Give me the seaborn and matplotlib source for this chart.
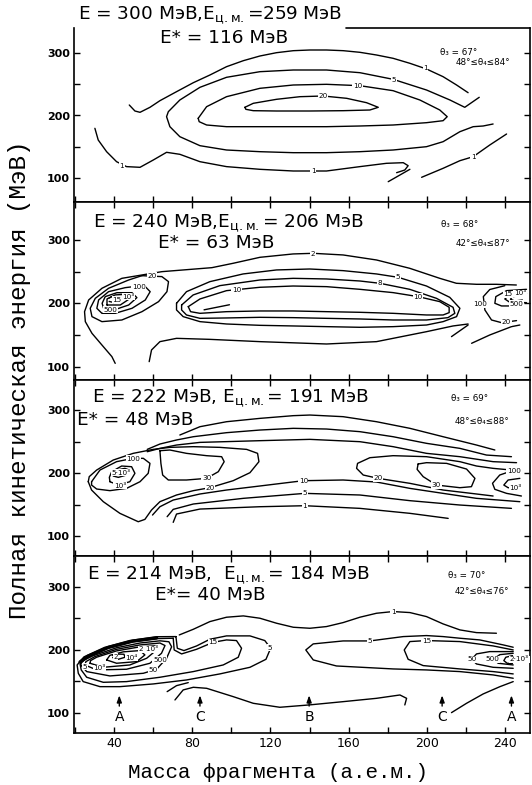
import matplotlib
matplotlib.use("Agg")
import matplotlib.pyplot as plt
import seaborn as sns
import pandas as pd

sns.set_theme(style="ticks")
plt.rcParams['font.family'] = ['DejaVu Sans']
plt.rcParams['mathtext.fontset'] = 'dejavusans'
for k in ["text.color", "axes.labelcolor", "xtick.color", "ytick.color", "axes.edgecolor"]:
    plt.rcParams[k] = "black"

# ---------------- axes ----------------
mass_range = (19.4, 252.9)
mass_ticks = [40, 80, 120, 160, 200, 240]
mass_minor = [20, 60, 100, 140, 180, 220]
tke_ticks = [100, 200, 300]
tke_minor = [150, 250]
tke_ranges = [(61.6, 340.0), (79.5, 359.8), (68.3, 347.6), (68.3, 349.0)]

title_line1 = [r"E = 300 МэВ,E$_{\mathrm{ц.м.}}$=259 МэВ",
               r"E = 240 МэВ,E$_{\mathrm{ц.м.}}$= 206 МэВ",
               r"E = 222 МэВ, E$_{\mathrm{ц.м.}}$= 191 МэВ",
               r"E = 214 МэВ,  E$_{\mathrm{ц.м.}}$= 184 МэВ"]
title_line2 = ["E* = 116 МэВ", "E* = 63 МэВ", "E* = 48 МэВ", "E*= 40 МэВ"]
theta3 = ["θ₃ = 67°", "θ₃ = 68°", "θ₃ = 69°", "θ₃ = 70°"]
theta4 = ["48°≤θ₄≤84°", "42°≤θ₄≤87°", "48°≤θ₄≤88°", "42°≤θ₄≤76°"]

# ---------------- panel 1 : E = 300 MeV ----------------
p1_a_x = [47.7, 50.6, 53.2, 58.3, 63.4, 71.9, 80.5, 89.0, 97.5, 106.1, 114.6, 123.1, 131.7, 140.2, 148.7, 157.3, 165.8, 174.3, 182.8, 191.4, 199.9, 208.4, 215.3, 221.2]
p1_a_y = [216.8, 207.2, 205.1, 213.1, 223.7, 238.1, 252.5, 264.8, 278.1, 287.7, 295.2, 300.5, 303.7, 304.8, 304.8, 303.7, 301.1, 296.8, 291.5, 283.5, 274.4, 262.1, 248.8, 236.5]
p1_b_x = [226.9, 219.5, 211.9, 199.9, 182.8, 165.8, 148.7, 131.7, 114.6, 97.5, 83.9, 73.6, 67.7, 66.8, 68.5, 73.6, 83.9, 97.5, 114.6, 131.7, 148.7, 165.8, 182.8, 199.9, 208.4, 217.0, 223.8, 228.9, 234.0]
p1_b_y = [229.1, 213.1, 224.8, 240.8, 257.9, 268.5, 272.8, 272.8, 270.1, 261.1, 245.1, 224.8, 206.1, 198.1, 182.1, 166.1, 151.7, 144.8, 142.1, 140.5, 140.5, 142.1, 144.8, 150.1, 158.1, 174.1, 182.1, 183.2, 186.4]
p1_c_x = [83.0, 87.3, 97.5, 114.6, 131.7, 148.7, 165.8, 182.8, 196.5, 206.7, 210.5, 208.4, 199.9, 182.8, 165.8, 148.7, 131.7, 114.6, 97.5, 87.3, 83.5]
p1_c_y = [195.5, 214.1, 230.1, 243.5, 248.8, 249.9, 247.7, 239.7, 224.8, 208.8, 198.1, 191.7, 188.5, 184.8, 183.2, 182.1, 182.1, 182.1, 182.1, 184.8, 190.1]
p1_d_x = [106.9, 111.2, 123.1, 135.1, 147.0, 159.0, 169.2, 175.2, 170.9, 157.3, 140.2, 123.1, 111.2, 107.4]
p1_d_y = [213.1, 219.5, 225.9, 230.1, 231.2, 227.5, 220.5, 213.1, 208.8, 207.7, 207.2, 207.2, 207.7, 209.9]
p1_e_x = [30.1, 31.8, 36.1, 41.2, 46.3, 53.2, 60.0, 66.8, 73.6, 83.9, 97.5, 114.6, 131.7, 148.7, 165.8, 179.4, 188.0, 190.5, 188.8, 184.6]
p1_e_y = [179.5, 160.8, 142.1, 126.1, 118.2, 117.1, 128.8, 141.1, 137.9, 126.1, 118.2, 113.9, 111.2, 111.2, 118.2, 123.5, 124.5, 119.7, 112.8, 108.5]
p1_f_x = [180.3, 186.3, 191.4]
p1_f_y = [94.1, 104.8, 113.9]
p1_g_x = [197.4, 208.4, 217.0, 223.8, 232.3, 240.9]
p1_g_y = [101.1, 115.5, 127.7, 134.1, 152.8, 170.4]
p1_lbl = ["1", "5", "10", "20", "1", "1", "1"]
p1_lbl_x = [199.4, 183.4, 164.6, 147.0, 43.8, 141.9, 223.8]
p1_lbl_y = [275.5, 256.8, 247.7, 230.6, 119.2, 110.8, 134.1]

# ---------------- panel 2 : E = 240 MeV ----------------
p2_a_x = [40.5, 38.8, 33.7, 28.6, 25.2, 24.8, 26.9, 33.7, 43.9, 64.4, 90.0, 100.9, 114.6, 131.6, 141.9, 157.2, 174.3, 191.3, 206.7, 215.2, 225.5, 235.7, 245.9]
p2_a_y = [105.7, 116.3, 134.6, 153.0, 171.4, 187.1, 205.5, 223.9, 239.6, 250.1, 256.4, 263.3, 272.7, 278.0, 279.0, 276.4, 268.5, 255.4, 239.6, 231.8, 230.2, 230.2, 229.1]
p2_b_x = [71.9, 77.0, 89.0, 106.0, 123.1, 140.1, 157.2, 174.3, 185.4, 199.9, 211.8, 217.0, 215.3, 208.4, 199.9, 182.8, 165.8, 148.7, 131.6, 114.6, 97.5, 83.9, 75.3, 71.9]
p2_b_y = [200.3, 218.6, 234.4, 246.5, 252.8, 254.3, 251.7, 246.5, 241.2, 227.5, 209.7, 192.4, 179.3, 171.4, 166.1, 163.5, 162.5, 163.5, 164.6, 165.6, 167.7, 171.4, 179.3, 189.8]
p2_c_x = [74.5, 80.4, 94.1, 114.6, 131.6, 148.7, 165.8, 176.0, 191.3, 205.0, 213.5, 214.4, 210.9, 199.9, 182.8, 165.8, 148.7, 131.6, 114.6, 97.5, 83.9, 77.0, 74.5]
p2_c_y = [197.6, 213.4, 228.1, 237.0, 239.6, 238.6, 235.4, 231.8, 222.3, 208.1, 194.0, 184.5, 177.7, 174.0, 174.0, 175.6, 176.6, 177.7, 178.2, 177.2, 176.6, 181.9, 189.8]
p2_d_x = [77.9, 83.9, 97.5, 114.6, 131.6, 148.7, 165.8, 182.8, 195.6, 206.7, 211.5, 211.5, 208.4, 199.9, 182.8, 165.8, 148.7, 131.6, 114.6, 97.5, 83.9, 79.1]
p2_d_y = [195.0, 207.1, 220.2, 225.5, 227.5, 226.5, 222.3, 217.1, 210.8, 202.9, 194.0, 185.6, 181.9, 181.9, 184.5, 186.1, 187.1, 188.2, 188.2, 187.1, 184.5, 187.1]
p2_s_x = [86.0, 99.0]
p2_s_y = [190.0, 198.0]
p2_e_x = [57.9, 59.1, 63.4, 71.9, 89.0, 114.6, 148.7, 174.3, 199.9, 213.5, 221.2]
p2_e_y = [108.4, 126.8, 139.9, 145.1, 143.5, 139.9, 136.2, 139.9, 155.6, 164.6, 167.7]
p2_f_x = [212.7, 221.2]
p2_f_y = [147.8, 166.1]
p2_g_x = [223.0, 232.3, 243.4, 247.7]
p2_g_y = [137.3, 150.4, 163.5, 166.1]
p2_r20_x = [240.0, 232.3, 229.0, 229.8, 233.2, 238.3, 246.0]
p2_r20_y = [228.0, 222.0, 210.8, 189.8, 174.0, 169.8, 173.0]
p2_r100_x = [251.1, 240.9, 235.4, 234.9, 238.3, 245.1]
p2_r100_y = [222.3, 220.2, 210.8, 200.3, 196.1, 196.1]
p2_r500_x = [251.1, 242.6, 240.0, 242.6, 251.1]
p2_r500_y = [216.0, 213.4, 207.1, 201.8, 201.3]
p2_r15_x = [248.5, 243.9, 242.9, 245.1, 249.0]
p2_r15_y = [212.3, 210.8, 206.6, 203.9, 205.5]
p2_l20_x = [54.2, 64.4, 67.8, 67.0, 62.7, 54.2, 43.9, 33.7, 28.6, 27.7, 30.3, 37.1, 47.4]
p2_l20_y = [243.8, 242.3, 234.4, 218.6, 202.9, 187.1, 174.0, 171.4, 179.3, 192.4, 208.1, 223.9, 237.0]
p2_l100_x = [55.9, 58.4, 55.9, 49.1, 40.5, 33.7, 31.1, 32.0, 37.1, 45.6, 52.5]
p2_l100_y = [226.5, 218.6, 205.5, 192.4, 184.5, 184.5, 192.4, 205.5, 218.6, 224.9, 227.5]
p2_l500_x = [34.5, 40.5, 47.4, 51.6, 49.1, 41.4, 35.4, 33.8]
p2_l500_y = [193.0, 190.5, 197.6, 209.2, 217.0, 217.0, 210.8, 200.3]
p2_l1k_x = [36.3, 43.1, 48.2, 46.5, 40.5, 36.3]
p2_l1k_y = [197.6, 197.6, 208.1, 214.5, 213.5, 207.1]
p2_l15_x = [37.4, 39.7, 40.5, 38.8, 37.4]
p2_l15_y = [203.2, 201.6, 207.5, 211.0, 208.6]
p2_lbl = ["2", "5", "8", "10", "10", "20", "100", "10³", "15", "500", "20", "100", "500", "15", "10³"]
p2_lbl_x = [141.9, 185.4, 176.0, 102.6, 195.6, 59.3, 52.5, 47.4, 41.5, 38.0, 240.9, 227.2, 246.0, 241.7, 247.8]
p2_lbl_y = [278.5, 241.2, 231.8, 221.3, 210.8, 243.5, 225.5, 210.8, 206.0, 190.5, 170.9, 198.7, 199.2, 214.4, 216.0]

# ---------------- panel 3 : E = 222 MeV ----------------
p3_t1_x = [73.6, 83.9, 97.5, 114.6, 131.7, 140.2, 157.2, 174.3, 191.4, 208.4, 225.5, 234.9]
p3_t1_y = [260.3, 273.5, 281.4, 286.7, 291.0, 292.0, 289.4, 281.4, 270.9, 257.6, 244.4, 236.5]
p3_t2_x = [56.9, 63.4, 71.9, 80.5, 97.5, 114.6, 131.7, 148.7, 165.8, 182.8, 199.9, 217.0, 230.6, 243.4]
p3_t2_y = [237.5, 246.0, 252.4, 257.6, 264.0, 268.2, 270.9, 269.8, 265.6, 257.6, 247.1, 239.1, 228.5, 225.9]
p3_t3_x = [56.9, 63.4, 71.9, 83.9, 114.6, 140.2, 165.8, 182.8, 199.9, 217.0, 234.0, 246.0]
p3_t3_y = [233.8, 239.1, 244.4, 248.6, 251.3, 253.4, 249.7, 241.8, 231.2, 225.9, 218.0, 216.4]
p3_l20_x = [26.7, 28.4, 34.4, 42.9, 52.3, 55.7, 59.1, 63.4, 71.9, 80.5, 89.0, 100.9, 109.5, 114.1, 113.4, 107.8, 94.1, 80.5, 68.5, 60.0, 49.7, 39.5, 31.0, 27.2]
p3_l20_y = [186.2, 173.0, 154.5, 136.0, 122.7, 126.4, 141.3, 154.5, 165.1, 172.0, 176.7, 187.8, 200.5, 218.0, 231.2, 237.5, 240.7, 241.8, 240.7, 237.5, 231.2, 220.6, 204.7, 194.2]
p3_l30_x = [63.4, 63.9, 64.8, 67.7, 77.0, 87.3, 93.3, 96.3, 95.0, 87.3, 77.0, 68.5]
p3_l30_y = [235.4, 215.3, 196.8, 188.9, 188.9, 191.5, 202.1, 218.0, 225.9, 227.5, 231.2, 236.5]
p3_l100_x = [28.4, 32.7, 41.2, 49.7, 54.9, 58.3, 57.4, 53.2, 46.3, 37.8, 31.0, 28.4]
p3_l100_y = [186.2, 204.7, 218.0, 223.3, 223.3, 215.3, 199.5, 186.2, 175.6, 172.0, 174.6, 180.9]
p3_l1k_x = [37.8, 42.1, 48.0, 50.6, 48.9, 43.8, 38.7, 37.5]
p3_l1k_y = [186.2, 180.9, 186.2, 199.5, 210.0, 211.1, 202.1, 193.1]
p3_l5k_x = [39.5, 42.1, 46.3, 47.7, 45.5, 41.2, 39.5]
p3_l5k_y = [195.2, 193.1, 196.8, 204.7, 207.4, 204.7, 199.5]
p3_l10_x = [59.6, 63.4, 70.2, 83.9, 97.5, 114.6, 136.8, 157.2, 174.3, 191.4, 208.4, 225.5, 247.7]
p3_l10_y = [133.3, 146.5, 157.1, 166.7, 173.0, 179.4, 187.8, 188.9, 185.7, 175.6, 167.7, 159.8, 154.5]
p3_l5_x = [67.1, 70.2, 80.5, 106.1, 137.6, 165.8, 191.4, 217.0, 243.4]
p3_l5_y = [130.7, 142.3, 150.8, 159.8, 167.7, 165.1, 156.1, 149.2, 143.9]
p3_l1_x = [70.2, 71.9, 83.9, 114.6, 137.6, 165.8, 191.4, 211.0]
p3_l1_y = [121.7, 134.9, 142.8, 146.5, 148.1, 143.9, 136.0, 128.0]
p3_r20_x = [243.4, 234.0, 225.5, 217.0, 199.9, 182.8, 170.9, 164.6, 164.1, 167.5, 175.2, 191.4, 208.4, 225.5, 234.0]
p3_r20_y = [204.7, 207.4, 211.1, 218.0, 225.9, 227.5, 224.3, 215.3, 207.4, 196.8, 191.5, 183.6, 173.0, 166.7, 163.5]
p3_r30_x = [195.6, 199.9, 210.2, 220.4, 224.7, 222.9, 217.0, 205.0, 198.2, 195.1]
p3_r30_y = [214.3, 216.4, 215.3, 206.3, 191.5, 178.3, 176.7, 180.9, 194.2, 205.8]
p3_r100_x = [243.4, 237.4, 233.7, 234.9, 240.9, 248.5]
p3_r100_y = [203.2, 196.8, 183.6, 174.1, 167.7, 163.5]
p3_r1k_x = [247.7, 241.7, 239.5, 241.7, 247.7]
p3_r1k_y = [191.5, 188.9, 180.9, 176.7, 175.6]
p3_lbl = ["100", "10³", "5·10³", "30", "20", "10", "5", "1", "20", "30", "100", "10³"]
p3_lbl_x = [49.7, 42.9, 43.6, 87.3, 89.0, 136.8, 137.6, 137.6, 175.2, 205.0, 244.5, 245.5]
p3_lbl_y = [222.2, 179.9, 200.5, 191.5, 176.7, 187.8, 167.7, 148.1, 191.5, 180.9, 203.2, 176.7]

# ---------------- panel 4 : E = 214 MeV ----------------
p4_top_x = [73.3, 80.5, 89.0, 97.5, 106.1, 114.6, 123.1, 131.7, 140.2, 148.7, 157.2, 165.8, 174.3, 182.8, 191.4, 199.9, 208.4, 217.0, 225.5, 235.7]
p4_top_y = [223.8, 232.8, 245.0, 251.9, 254.0, 250.3, 242.4, 236.0, 234.4, 237.1, 243.4, 251.9, 258.2, 260.9, 259.3, 252.9, 241.3, 231.8, 227.5, 226.5]
p4_r5_x = [244.3, 239.2, 227.2, 217.0, 208.4, 199.9, 188.0, 170.9, 157.2, 141.9, 138.1, 141.9, 153.8, 182.8, 199.9, 217.0, 234.0, 244.3]
p4_r5_y = [204.3, 208.0, 215.9, 218.6, 221.2, 222.8, 221.2, 214.3, 214.3, 209.6, 200.0, 184.2, 174.6, 169.9, 168.3, 165.7, 160.4, 155.1]
p4_r15_x = [244.3, 234.0, 217.0, 199.9, 191.4, 188.5, 190.5, 198.2, 217.0, 234.0, 244.3]
p4_r15_y = [200.0, 206.4, 213.3, 214.9, 213.3, 200.0, 185.2, 175.2, 169.9, 165.7, 162.0]
p4_r50_x = [244.3, 232.3, 225.5, 223.0, 225.5, 234.0, 244.3]
p4_r50_y = [197.4, 197.4, 193.7, 185.2, 177.8, 172.5, 170.9]
p4_r500_x = [244.3, 237.5, 234.0, 236.6, 244.3]
p4_r500_y = [194.7, 192.6, 185.2, 178.9, 176.2]
p4_r2k_x = [243.9, 240.5, 239.5, 241.2, 243.9]
p4_r2k_y = [191.0, 188.4, 183.1, 178.9, 178.4]
p4_br_x = [212.7, 220.4, 228.9, 237.5, 244.3]
p4_br_y = [100.6, 115.4, 130.2, 141.8, 149.8]
p4_low_x = [71.1, 75.3, 80.5, 87.3, 100.9, 111.2, 124.8, 139.8, 157.2, 174.3, 186.3, 189.7, 188.8]
p4_low_y = [120.7, 136.6, 140.8, 139.2, 126.0, 115.4, 109.1, 112.8, 118.0, 123.3, 128.6, 123.3, 112.8]
p4_arc_x = [67.1, 71.9, 77.9]
p4_arc_y = [133.9, 143.4, 148.2]
p4_l5_x = [71.6, 72.3, 75.7, 82.2, 89.0, 97.5, 109.5, 117.1, 120.1, 117.7, 109.5, 94.1, 77.0, 60.0, 42.9, 32.7, 24.1, 21.6, 21.0, 24.5, 35.0, 48.0, 61.7]
p4_l5_y = [221.2, 202.7, 199.0, 206.4, 217.0, 222.3, 222.3, 214.9, 202.7, 185.2, 172.5, 162.0, 152.4, 146.1, 141.8, 141.8, 149.8, 163.0, 176.2, 189.0, 204.0, 215.0, 221.0]
p4_l15_x = [70.2, 70.7, 74.5, 82.2, 90.7, 97.5, 102.6, 105.2, 103.5, 95.8, 80.5, 63.4, 46.3, 34.4, 25.9, 23.1, 22.5, 26.5, 37.0, 49.5, 61.7]
p4_l15_y = [218.6, 200.0, 193.7, 201.1, 212.2, 215.9, 214.9, 202.7, 188.4, 176.2, 165.7, 156.7, 149.8, 148.7, 156.7, 168.3, 177.8, 189.0, 203.0, 213.0, 218.0]
p4_l50_x = [22.8, 25.9, 37.8, 54.9, 61.7, 66.8, 69.4, 68.0, 63.4, 53.2, 41.2, 29.3, 23.3]
p4_l50_y = [176.2, 165.7, 158.8, 163.0, 169.4, 186.8, 205.0, 213.0, 214.5, 211.0, 203.5, 191.0, 182.0]
p4_l500_x = [25.0, 31.0, 46.3, 58.3, 64.2, 66.0, 63.4, 53.2, 41.2, 30.1, 25.5]
p4_l500_y = [176.2, 168.3, 169.4, 178.9, 194.7, 207.0, 211.0, 208.0, 201.0, 189.5, 181.5]
p4_l2k_x = [27.6, 34.4, 48.0, 56.6, 61.7, 60.8, 53.2, 41.2, 31.0, 27.9]
p4_l2k_y = [178.9, 172.5, 176.2, 186.8, 200.0, 206.5, 205.0, 198.5, 188.5, 183.1]
p4_l10k_x = [36.1, 41.2, 51.5, 55.7, 53.2, 44.6, 37.8]
p4_l10k_y = [184.2, 178.9, 181.5, 192.1, 199.0, 197.0, 191.5]
p4_l20k_x = [39.2, 42.1, 45.5, 45.0, 41.2, 39.2]
p4_l20k_y = [187.9, 185.2, 188.4, 193.2, 193.5, 191.0]
p4_ridge_x = [22.5, 26.5, 37.0, 49.5, 61.7]
p4_ridge_y = [181.0, 190.0, 204.0, 214.0, 219.0]
p4_lbl = ["1", "5", "15", "50", "500", "2·10³", "15", "5", "50", "500", "2 10³", "10⁴", "2", "10³", "5"]
p4_lbl_x = [182.8, 170.9, 199.9, 223.0, 233.7, 247.5, 90.7, 119.7, 60.0, 63.4, 57.4, 48.9, 40.6, 32.3, 25.0]
p4_lbl_y = [260.9, 214.3, 214.9, 185.2, 185.2, 185.2, 212.2, 203.5, 167.5, 184.2, 201.1, 187.9, 189.0, 171.0, 173.6]
arrow_mass = [42.6, 83.9, 139.8, 207.9, 243.4]
arrow_text = ["A", "C", "B", "C", "A"]

panel_curves = [
    [(p1_a_x, p1_a_y, False), (p1_b_x, p1_b_y, False), (p1_c_x, p1_c_y, True), (p1_d_x, p1_d_y, True),
     (p1_e_x, p1_e_y, False), (p1_f_x, p1_f_y, False), (p1_g_x, p1_g_y, False)],
    [(p2_a_x, p2_a_y, False), (p2_b_x, p2_b_y, True), (p2_c_x, p2_c_y, True), (p2_d_x, p2_d_y, True),
     (p2_s_x, p2_s_y, False), (p2_e_x, p2_e_y, False), (p2_f_x, p2_f_y, False), (p2_g_x, p2_g_y, False),
     (p2_r20_x, p2_r20_y, False), (p2_r100_x, p2_r100_y, False), (p2_r500_x, p2_r500_y, False),
     (p2_r15_x, p2_r15_y, False), (p2_l20_x, p2_l20_y, True), (p2_l100_x, p2_l100_y, True),
     (p2_l500_x, p2_l500_y, True), (p2_l1k_x, p2_l1k_y, True), (p2_l15_x, p2_l15_y, False)],
    [(p3_t1_x, p3_t1_y, False), (p3_t2_x, p3_t2_y, False), (p3_t3_x, p3_t3_y, False),
     (p3_l20_x, p3_l20_y, True), (p3_l30_x, p3_l30_y, True), (p3_l100_x, p3_l100_y, True),
     (p3_l1k_x, p3_l1k_y, True), (p3_l5k_x, p3_l5k_y, False), (p3_l10_x, p3_l10_y, False),
     (p3_l5_x, p3_l5_y, False), (p3_l1_x, p3_l1_y, False), (p3_r20_x, p3_r20_y, False),
     (p3_r30_x, p3_r30_y, True), (p3_r100_x, p3_r100_y, False), (p3_r1k_x, p3_r1k_y, False)],
    [(p4_top_x, p4_top_y, False), (p4_r5_x, p4_r5_y, False), (p4_r15_x, p4_r15_y, False),
     (p4_r50_x, p4_r50_y, False), (p4_r500_x, p4_r500_y, False), (p4_r2k_x, p4_r2k_y, False),
     (p4_br_x, p4_br_y, False), (p4_low_x, p4_low_y, False), (p4_arc_x, p4_arc_y, False),
     (p4_l5_x, p4_l5_y, True), (p4_l15_x, p4_l15_y, True), (p4_l50_x, p4_l50_y, True),
     (p4_l500_x, p4_l500_y, True), (p4_l2k_x, p4_l2k_y, True), (p4_l10k_x, p4_l10k_y, True),
     (p4_l20k_x, p4_l20k_y, False)],
]
panel_labels = [(p1_lbl, p1_lbl_x, p1_lbl_y), (p2_lbl, p2_lbl_x, p2_lbl_y),
                (p3_lbl, p3_lbl_x, p3_lbl_y), (p4_lbl, p4_lbl_x, p4_lbl_y)]

# ---------------- layout (pixels of the 532x785 page) ----------------
W, H = 532, 785
ax_left, ax_right = 74, 530
panel_px = [(28, 202), (202, 380), (380, 556), (556, 733)]
title1_px = [(78, 15), (93, 223), (92, 398), (87, 575)]
title2_px = [(160, 38), (158, 243), (77, 420), (155, 595)]
theta3_pos = [(216.1, 300.5), (217.0, 324.0), (222.1, 318.5), (220.7, 317.5)]
theta4_pos = [(228.6, 284.5), (228.9, 294.8), (228.1, 281.4), (228.1, 292.6)]

fig = plt.figure(figsize=(W / 100, H / 100), dpi=100)
fig.patch.set_facecolor("white")

for i, (top, bot) in enumerate(panel_px):
    ax = fig.add_axes([ax_left / W, 1 - bot / H, (ax_right - ax_left) / W, (bot - top) / H])
    ax.set_facecolor("white")
    for xs, ys, closed in panel_curves[i]:
        xx = list(xs) + ([xs[0]] if closed else [])
        yy = list(ys) + ([ys[0]] if closed else [])
        df = pd.DataFrame({"mass": xx, "tke": yy})
        sns.lineplot(data=df, x="mass", y="tke", sort=False, estimator=None,
                     ax=ax, color="black", lw=1.0)
    if i == 3:
        sns.lineplot(x=p4_ridge_x, y=p4_ridge_y, sort=False, estimator=None,
                     ax=ax, color="black", lw=2.4)
    txts, lx, ly = panel_labels[i]
    for s, x, y in zip(txts, lx, ly):
        ax.text(x, y, s, fontsize=5.2, ha="center", va="center", zorder=5,
                bbox=dict(boxstyle="square,pad=0.08", fc="white", ec="none"))
    ax.text(*theta3_pos[i], theta3[i], fontsize=6.3, ha="center", va="center")
    ax.text(*theta4_pos[i], theta4[i], fontsize=6.3, ha="center", va="center")

    ax.set_xlim(*mass_range)
    ax.set_ylim(*tke_ranges[i])
    ax.set_xticks(mass_ticks)
    ax.set_xticks(mass_minor, minor=True)
    ax.set_yticks(tke_ticks)
    ax.set_yticks(tke_minor, minor=True)
    ax.set_yticklabels([str(v) for v in tke_ticks], fontsize=8, fontweight="bold")
    if i == 3:
        ax.set_xticklabels([str(v) for v in mass_ticks], fontsize=9)
        for m, t in zip(arrow_mass, arrow_text):
            ax.annotate("", xy=(m, 128), xytext=(m, 111),
                        arrowprops=dict(arrowstyle="-|>,head_length=0.5,head_width=0.18",
                                        color="black", lw=1.0, mutation_scale=8,
                                        shrinkA=0, shrinkB=0))
            ax.text(m, 94, t, fontsize=10, ha="center", va="center")
    else:
        ax.set_xticklabels([])
    ax.set_xlabel("")
    ax.set_ylabel("")
    ax.tick_params(which="both", direction="in", length=4, width=1.0,
                   top=(i != 0), bottom=True, left=True, right=True, pad=3)
    for sp in ax.spines.values():
        sp.set_linewidth(1.2)
        sp.set_color("black")
    if i == 0:
        ax.spines["top"].set_visible(False)
        ax.plot([0.597, 1.0], [1.0, 1.0], transform=ax.transAxes, color="black",
                lw=1.2, clip_on=False)

    fig.text(title1_px[i][0] / W, 1 - title1_px[i][1] / H, title_line1[i],
             fontsize=13.3, ha="left", va="center")
    fig.text(title2_px[i][0] / W, 1 - title2_px[i][1] / H, title_line2[i],
             fontsize=13.3, ha="left", va="center")

fig.text(20 / W, 1 - 380 / H, "Полная кинетическая энергия (МэВ)", rotation=90,
         fontfamily=["Liberation Mono", "DejaVu Sans Mono"], fontsize=17.5,
         ha="center", va="center")
fig.text(278 / W, 1 - 772 / H, "Масса фрагмента (а.е.м.)",
         fontfamily=["Liberation Mono", "DejaVu Sans Mono"], fontsize=15,
         ha="center", va="center")

fig.savefig("out.png", dpi=100, facecolor="white")
